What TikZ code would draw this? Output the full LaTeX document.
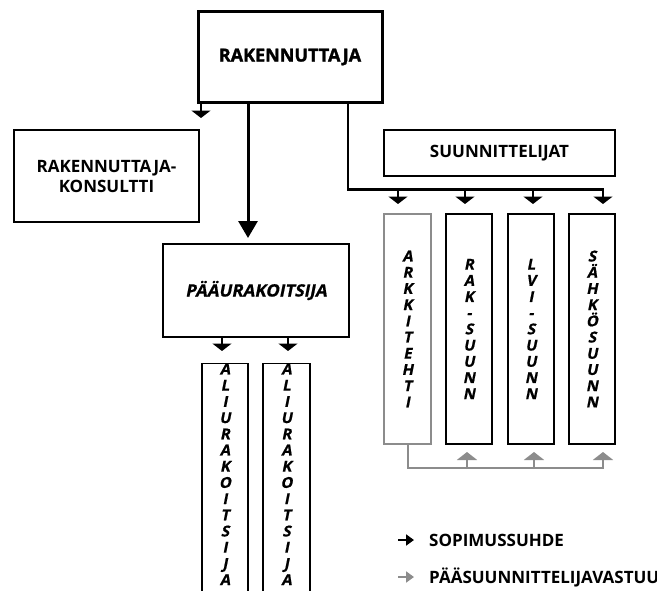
\documentclass[tikz,border=0pt]{standalone}
\usepackage{fontspec}
\setmainfont{Open Sans}
% heavier faces: one for the top box, one slanted for the stacked letters
\newfontfamily\heavy{Open Sans}[BoldFeatures={FakeBold=1.6}]
\newfontfamily\slantbold{Open Sans}[BoldFeatures={FakeSlant=0.2,FakeBold=0.8}]
\usetikzlibrary{arrows.meta}

\begin{document}
\begin{tikzpicture}[x=1pt,y=-1pt,
  box/.style={draw,rectangle,inner sep=0pt,line width=2.5pt,align=center},
  vbox/.style={draw,rectangle,inner sep=0pt,line width=1.4pt,align=center,
    font=\fontsize{15}{16.2}\selectfont\slantbold\bfseries},
  lbl/.style={font=\fontsize{17}{20}\selectfont\bfseries},
  arr/.style={line width=2.4pt,-{Triangle[width=19pt,length=7.5pt]}},
  bigarr/.style={line width=3pt,-{Triangle[width=19pt,length=17pt]}},
  garr/.style={draw=black!45,line width=2.6pt,-{Triangle[width=20pt,length=8pt]}},
  gline/.style={draw=black!45,line width=2pt},
  legarr/.style={line width=2pt,-{Triangle[width=11pt,length=8pt]}}]
\useasboundingbox (0,0) rectangle (657,590);
\clip (0,0) rectangle (657,590);
\fill[white] (0,0) rectangle (657,590);

% main boxes
\node[box,line width=3pt,minimum width=184pt,minimum height=91pt,
  font=\fontsize{18}{21}\selectfont\heavy\bfseries] (rak) at (290,57) {RAKENNUTTAJA};
\node[box,minimum width=185pt,minimum height=92pt,lbl] (kons) at (106.5,176)
  {RAKENNUTTAJA-\\KONSULTTI};
\node[box,line width=1.4pt,minimum width=186pt,minimum height=93pt,
  font=\fontsize{17}{20}\selectfont\slantbold\bfseries] (pu) at (256,290.5) {PÄÄURAKOITSIJA};
\node[box,minimum width=231pt,minimum height=46pt,lbl] (suun)
  at (499.5,153) {SUUNNITTELIJAT};

% designers
\node[vbox,draw=black!45,minimum width=47pt,minimum height=230pt] (ark) at (407.5,329)
  {A\\R\\K\\K\\I\\T\\E\\H\\T\\I};
\node[vbox,minimum width=46pt,minimum height=230pt] (raks) at (469,329)
  {R\\A\\K\\-\\S\\U\\U\\N\\N};
\node[vbox,minimum width=46pt,minimum height=230pt] (lvi) at (531,329)
  {L\\V\\I\\-\\S\\U\\U\\N\\N};
\node[vbox,minimum width=46pt,minimum height=230pt] (sahko) at (592,329)
  {S\\Ä\\H\\K\\Ö\\S\\U\\U\\N\\N};

% subcontractors (run off the bottom edge)
\node[vbox,minimum width=46pt,minimum height=250pt,anchor=north] (ali1) at (225,363)
  {A\\L\\I\\U\\R\\A\\K\\O\\I\\T\\S\\I\\J\\A\\[26pt]};
\node[vbox,minimum width=47pt,minimum height=250pt,anchor=north] (ali2) at (286.5,363)
  {A\\L\\I\\U\\R\\A\\K\\O\\I\\T\\S\\I\\J\\A\\[26pt]};

% contract arrows from the client
\coordinate (k1) at (201,118);
\draw[arr] (rak.south -| k1) -- (k1);
\coordinate (p1) at (248,238);
\draw[bigarr] (rak.south -| p1) -- (p1);
\coordinate (s0) at (348,189.5);
\coordinate (s4) at (603,189.5);
\draw[line width=2.4pt] (rak.south -| s0) -- (s0) -- (s4);
\foreach \x/\n in {398/ark,465/raks,533/lvi,603/sahko}{
  \coordinate (t\n) at (\x,204);
  \draw[arr] (\x,188.3) -- (t\n);
}

% main contractor to subcontractors
\coordinate (a1) at (222,351);
\coordinate (a2) at (288,351);
\draw[arr] (pu.south -| a1) -- (a1);
\draw[arr] (pu.south -| a2) -- (a2);

% lead designer responsibility
\coordinate (g0) at (407.5,468);
\coordinate (g4) at (603,468);
\draw[gline] (ark.south) -- (g0) -- (g4);
\foreach \x in {467,534,603}{
  \draw[garr] (\x,469) -- (\x,452);
}

% legend
\coordinate (l1) at (414,540);
\coordinate (l2) at (414,577);
\draw[legarr] (398,540) -- (l1);
\draw[legarr,draw=black!45] (398,577) -- (l2);
\node[lbl,anchor=west,inner sep=0pt] (leg1) at (429,540) {SOPIMUSSUHDE};
\node[lbl,anchor=west,inner sep=0pt] (leg2) at (429,577) {PÄÄSUUNNITTELIJAVASTUU};
\end{tikzpicture}
\end{document}
